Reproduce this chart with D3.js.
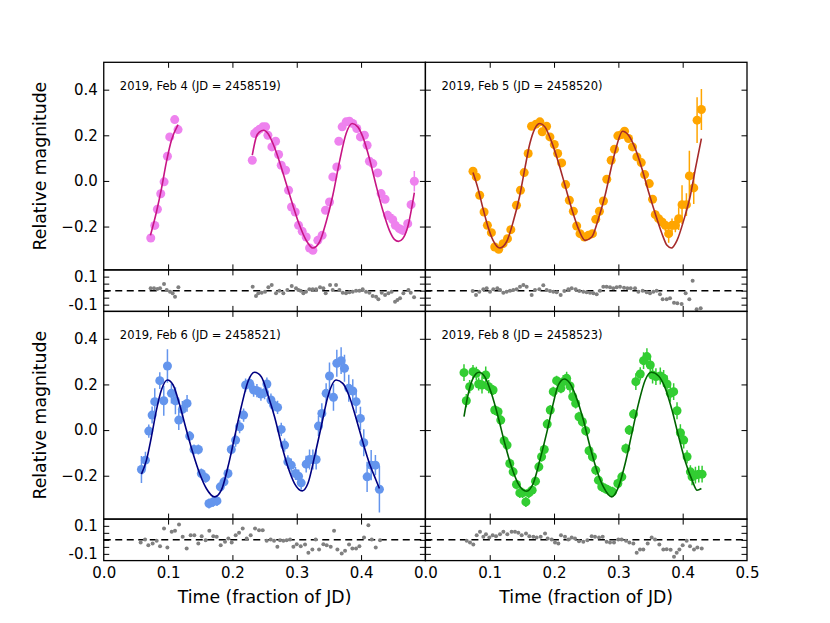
<!DOCTYPE html>
<html><head><meta charset="utf-8">
<script src="https://cdn.jsdelivr.net/npm/d3@7"></script>
<style>body{margin:0;background:#fff} svg{display:block} text{font-family:"DejaVu Sans",sans-serif}</style>
</head><body><svg id="c" width="830" height="623"></svg>
<script>
// ---------------- DATA (time fraction of JD, relative magnitude, error) ----------------
const panelLabels = ["2019, Feb 4 (JD = 2458519)", "2019, Feb 5 (JD = 2458520)", "2019, Feb 6 (JD = 2458521)", "2019, Feb 8 (JD = 2458523)"];
const xTickValues = [0.0, 0.1, 0.2, 0.3, 0.4, 0.5];
const mainYTicks = [-0.2, 0.0, 0.2, 0.4];
const resYTicks = [-0.1, -0.05, 0, 0.05, 0.1];
const resYLabels = {"0.1": "0.1", "-0.1": "-0.1"};
const xTitle = "Time (fraction of JD)";
const yTitle = "Relative magnitude";

const feb4Points = [[0.0731,-0.250,0.012],[0.0793,-0.195,0.01],[0.0834,-0.124,0.01],[0.0886,-0.056,0.012],[0.0938,-0.004,0.01],[0.0990,0.108,0.01],[0.1026,0.193,0.012],[0.1103,0.269,0.01],[0.1155,0.225,0.01],
[0.2309,0.0907,0.01],[0.2345,0.2078,0.01],[0.2381,0.2180,0.015],[0.2423,0.2268,0.015],[0.2474,0.2370,0.015],[0.2516,0.2370,0.01],[0.2552,0.2004,0.01],[0.2614,0.1492,0.01],[0.2671,0.1741,0.01],[0.2718,0.1156,0.01],[0.2759,0.0688,0.01],[0.2826,0.0468,0.01],[0.2873,-0.0410,0.01],[0.2919,-0.1141,0.01],[0.2976,-0.1361,0.01],[0.3028,-0.1946,0.01],[0.3085,-0.2209,0.01],[0.3147,-0.2458,0.01],[0.3199,-0.2941,0.01],[0.3251,-0.3043,0.01],[0.3328,-0.2604,0.01],[0.3395,-0.2385,0.01],[0.3447,-0.1287,0.012],[0.3509,-0.0922,0.012],[0.3561,0.0176,0.015],[0.3623,0.0614,0.015],[0.3654,0.1741,0.012],[0.3706,0.2370,0.015],[0.3768,0.2590,0.015],[0.3819,0.2619,0.015],[0.3871,0.2516,0.015],[0.3933,0.2297,0.015],[0.3990,0.1931,0.015],[0.4052,0.2004,0.015],[0.4094,0.1565,0.015],[0.4130,0.0863,0.015],[0.4182,0.0761,0.015],[0.4259,0.0351,0.015],[0.4311,-0.0556,0.015],[0.4373,-0.0805,0.015],[0.4414,-0.1507,0.02],[0.4492,-0.1697,0.025],[0.4533,-0.1946,0.02],[0.4595,-0.2092,0.02],[0.4647,-0.2165,0.02],[0.4725,-0.1873,0.02],[0.4777,-0.1039,0.02],[0.4828,-0.0015,0.045]];
const feb4FitA = [[0.0726,-0.2385],[0.0819,-0.1361],[0.0897,-0.0337],[0.0974,0.0834],[0.1052,0.1785],[0.1155,0.2473]];
const feb4FitB = [[0.2309,0.1127],[0.2371,0.1931],[0.2423,0.2151],[0.2485,0.2224],[0.2552,0.2078],[0.2630,0.1639],[0.2733,0.0834],[0.2836,-0.0117],[0.2940,-0.1068],[0.3044,-0.1946],[0.3147,-0.2604],[0.3251,-0.2941],[0.3354,-0.2677],[0.3457,-0.1800],[0.3561,-0.0629],[0.3664,0.0834],[0.3768,0.2078],[0.3861,0.2516],[0.3949,0.2370],[0.4027,0.1931],[0.4130,0.0980],[0.4233,-0.0190],[0.4337,-0.1287],[0.4440,-0.2165],[0.4518,-0.2560],[0.4580,-0.2648],[0.4647,-0.2531],[0.4725,-0.2019],[0.4828,-0.0512]];
const feb4Resid = [[0.0729,0.0167],[0.0781,0.0167],[0.0833,0.0119],[0.0875,0.0167],[0.0937,0.0476],[0.0978,0.0048],[0.1030,-0.0071],[0.1071,-0.0190],[0.1108,-0.0429],[0.1160,0.0238],
[0.2315,0.0286],[0.2367,-0.0381],[0.2403,-0.0190],[0.2455,-0.0143],[0.2507,-0.0071],[0.2559,0.0238],[0.2611,0.0405],[0.2678,-0.0190],[0.2730,0.0],[0.2792,-0.0190],[0.2854,0.0048],[0.2922,0.0333],[0.2989,0.0167],[0.3025,0.0048],[0.3061,0.0],[0.3103,-0.0190],[0.3144,-0.0071],[0.3196,0.0095],[0.3248,0.0095],[0.3300,0.0095],[0.3362,0.0238],[0.3414,0.0167],[0.3450,-0.0190],[0.3518,0.0405],[0.3559,0.0048],[0.3611,0.0405],[0.3663,0.0048],[0.3715,-0.0143],[0.3766,-0.0190],[0.3818,-0.0119],[0.3870,-0.0071],[0.3922,0.0],[0.3974,0.0],[0.4025,0.0095],[0.4077,-0.0071],[0.4129,-0.0143],[0.4181,-0.0381],[0.4233,-0.0429],[0.4269,-0.0619],[0.4321,-0.0143],[0.4373,-0.0310],[0.4425,-0.0190],[0.4476,-0.0071],[0.4528,-0.0786],[0.4565,-0.0667],[0.4606,-0.0548],[0.4658,-0.0190],[0.4736,0.0048],[0.4772,-0.0143],[0.4824,-0.0476]];

const feb5Points = [[0.0740,0.0424,0.012],[0.0792,0.0176,0.01],[0.0844,-0.0629,0.01],[0.0912,-0.1361,0.01],[0.0964,-0.1946,0.01],[0.1026,-0.2268,0.01],[0.1078,-0.2897,0.01],[0.1140,-0.2999,0.012],[0.1208,-0.2751,0.01],[0.1276,-0.2531,0.01],[0.1328,-0.2136,0.01],[0.1416,-0.1068,0.01],[0.1478,-0.0410,0.01],[0.1536,0.0366,0.01],[0.1598,0.1200,0.01],[0.1650,0.2399,0.015],[0.1718,0.2487,0.015],[0.1780,0.2590,0.015],[0.1816,0.2151,0.01],[0.1884,0.2399,0.015],[0.1936,0.1931,0.01],[0.2004,0.1595,0.01],[0.2056,0.1200,0.01],[0.2118,0.0790,0.01],[0.2180,-0.0161,0.01],[0.2238,-0.0849,0.01],[0.2300,-0.1331,0.01],[0.2352,-0.1975,0.01],[0.2404,-0.2312,0.01],[0.2472,-0.2458,0.01],[0.2534,-0.2385,0.01],[0.2597,-0.2312,0.01],[0.2648,-0.1683,0.01],[0.2706,-0.1331,0.012],[0.2768,-0.0878,0.012],[0.2820,0.0073,0.012],[0.2888,0.0907,0.012],[0.2940,0.1390,0.012],[0.2992,0.1975,0.012],[0.3054,0.2034,0.015],[0.3096,0.2180,0.015],[0.3158,0.1858,0.015],[0.3220,0.1492,0.015],[0.3288,0.1053,0.015],[0.3356,0.0805,0.015],[0.3408,0.0278,0.015],[0.3481,-0.0117,0.015],[0.3532,-0.0805,0.015],[0.3574,-0.1478,0.02],[0.3626,-0.1653,0.02],[0.3678,-0.1800,0.02],[0.3730,-0.1946,0.025],[0.3782,-0.2312,0.04],[0.3834,-0.1946,0.03],[0.3886,-0.1946,0.03],[0.3938,-0.1653,0.05],[0.3990,-0.1039,0.085],[0.4058,-0.1039,0.05],[0.4104,0.0219,0.11],[0.4172,-0.0307,0.07],[0.4224,0.2663,0.1],[0.4291,0.3131,0.09]];
const feb5Fit = [[0.0740,0.0366],[0.0818,-0.0337],[0.0896,-0.1214],[0.0974,-0.2019],[0.1052,-0.2604],[0.1156,-0.2941],[0.1260,-0.2677],[0.1364,-0.1800],[0.1468,-0.0629],[0.1546,0.0541],[0.1624,0.1639],[0.1702,0.2297],[0.1780,0.2516],[0.1858,0.2370],[0.1962,0.1712],[0.2066,0.0834],[0.2170,-0.0190],[0.2274,-0.1214],[0.2378,-0.2092],[0.2482,-0.2604],[0.2586,-0.2458],[0.2690,-0.1653],[0.2794,-0.0629],[0.2898,0.0688],[0.2976,0.1565],[0.3064,0.2180],[0.3158,0.2004],[0.3262,0.1419],[0.3366,0.0541],[0.3470,-0.0483],[0.3574,-0.1434],[0.3678,-0.2312],[0.3756,-0.2824],[0.3824,-0.2941],[0.3912,-0.2604],[0.4016,-0.1726],[0.4120,-0.0629],[0.4198,0.0541],[0.4291,0.1858]];
const feb5Resid = [[0.0735,-0.0024],[0.0787,-0.0310],[0.0838,-0.0071],[0.0901,0.0095],[0.0953,0.0167],[0.1004,-0.0071],[0.1056,0.0095],[0.1118,0.0167],[0.1160,0.0048],[0.1212,-0.0143],[0.1263,-0.0071],[0.1315,0.0],[0.1367,0.0048],[0.1419,0.0095],[0.1471,0.0286],[0.1523,0.0405],[0.1574,0.0286],[0.1652,-0.0310],[0.1704,0.0048],[0.1771,0.0095],[0.1833,0.0381],[0.1885,0.0048],[0.1937,-0.0024],[0.1989,-0.0071],[0.2041,-0.0119],[0.2103,-0.0310],[0.2160,-0.0024],[0.2222,0.0095],[0.2274,0.0167],[0.2336,0.0095],[0.2393,-0.0024],[0.2455,-0.0071],[0.2507,-0.0119],[0.2559,-0.0143],[0.2611,-0.0190],[0.2663,-0.0262],[0.2715,0.0],[0.2766,0.0286],[0.2818,0.0286],[0.2870,0.0238],[0.2922,0.0167],[0.2974,0.0238],[0.3026,0.0286],[0.3088,0.0214],[0.3140,0.0167],[0.3192,0.0167],[0.3259,0.0167],[0.3311,-0.0071],[0.3378,0.0],[0.3440,-0.0119],[0.3492,-0.0190],[0.3544,-0.0071],[0.3596,0.0],[0.3647,-0.0262],[0.3689,-0.0619],[0.3751,-0.0619],[0.3803,-0.0548],[0.3865,-0.0857],[0.3917,-0.0905],[0.3984,-0.0952],[0.4046,-0.0190],[0.4103,-0.0619],[0.4155,0.0714],[0.4217,-0.1333],[0.4280,-0.1262]];

const feb6Points = [[0.0586,-0.1726,0.059],[0.0648,-0.1317,0.037],[0.0700,-0.0044,0.029],[0.0752,0.0658,0.037],[0.0793,0.1244,0.059],[0.0871,0.2165,0.037],[0.0933,0.1287,0.066],[0.0990,0.2809,0.073],[0.1052,0.1609,0.044],[0.1114,0.1287,0.059],[0.1166,0.0439,0.044],[0.1222,0.0907,0.037],[0.1295,0.1170,0.037],[0.1336,-0.0263,0.022],[0.1403,-0.0849,0.022],[0.1471,-0.0849,0.022],[0.1517,-0.1902,0.022],[0.1585,-0.2092,0.022],[0.1636,-0.3219,0.022],[0.1698,-0.3146,0.022],[0.1760,-0.3102,0.022],[0.1812,-0.2487,0.022],[0.1869,-0.2268,0.022],[0.1931,-0.1902,0.022],[0.1983,-0.0849,0.022],[0.2050,-0.0439,0.029],[0.2112,0.0146,0.029],[0.2174,0.0658,0.029],[0.2205,0.1975,0.029],[0.2267,0.2048,0.029],[0.2330,0.1756,0.029],[0.2381,0.1726,0.029],[0.2443,0.1580,0.029],[0.2500,0.1639,0.029],[0.2536,0.2019,0.029],[0.2599,0.1317,0.029],[0.2640,0.1097,0.029],[0.2702,0.0995,0.029],[0.2759,0.0029,0.029],[0.2811,-0.0658,0.029],[0.2862,-0.1390,0.029],[0.2914,-0.1536,0.029],[0.2981,-0.1902,0.029],[0.3028,-0.2019,0.029],[0.3069,-0.2312,0.029],[0.3147,-0.1492,0.037],[0.3199,-0.1287,0.044],[0.3251,-0.1287,0.044],[0.3302,-0.1287,0.044],[0.3338,0.0176,0.044],[0.3390,0.0732,0.044],[0.3457,0.1609,0.044],[0.3509,0.2370,0.059],[0.3571,0.1434,0.059],[0.3623,0.2926,0.059],[0.3690,0.3043,0.059],[0.3742,0.2707,0.059],[0.3809,0.1829,0.059],[0.3871,0.1712,0.051],[0.3923,0.1244,0.051],[0.3990,0.0512,0.051],[0.4042,-0.0556,0.059],[0.4094,-0.2048,0.066],[0.4157,-0.1536,0.066],[0.4223,-0.1536,0.044],[0.4285,-0.2590,0.102]];
const feb6Fit = [[0.0586,-0.1931],[0.0664,-0.1317],[0.0741,-0.0293],[0.0819,0.0878],[0.0896,0.1756],[0.0990,0.2195],[0.1078,0.1975],[0.1181,0.1097],[0.1285,0.0],[0.1388,-0.1024],[0.1491,-0.1902],[0.1595,-0.2560],[0.1724,-0.2926],[0.1828,-0.2633],[0.1931,-0.1609],[0.2035,-0.0293],[0.2138,0.1024],[0.2241,0.2121],[0.2345,0.2531],[0.2449,0.2341],[0.2552,0.1536],[0.2655,0.0585],[0.2759,-0.0585],[0.2862,-0.1609],[0.2966,-0.2341],[0.3085,-0.2663],[0.3173,-0.2341],[0.3276,-0.1170],[0.3380,0.0146],[0.3483,0.1463],[0.3612,0.2195],[0.3716,0.2048],[0.3819,0.1463],[0.3923,0.0512],[0.4026,-0.0512],[0.4130,-0.1463],[0.4233,-0.2195],[0.4285,-0.2560]];
const feb6Resid = [[0.0574,-0.0190],[0.0642,0.0024],[0.0693,-0.0381],[0.0760,-0.0262],[0.0823,-0.0071],[0.0875,-0.0452],[0.0937,0.0810],[0.0989,-0.0548],[0.1056,0.0571],[0.1108,0.0643],[0.1170,0.1095],[0.1227,0.0214],[0.1289,-0.0619],[0.1351,0.0333],[0.1408,0.0333],[0.1470,-0.0262],[0.1522,0.0262],[0.1584,-0.0024],[0.1641,0.0643],[0.1703,0.0262],[0.1756,0.0214],[0.1818,-0.0381],[0.1885,-0.0143],[0.1937,0.0095],[0.1989,-0.0190],[0.2051,0.0333],[0.2103,0.0500],[0.2160,0.0810],[0.2222,0.0095],[0.2284,0.0333],[0.2352,0.0810],[0.2414,0.0690],[0.2471,0.0690],[0.2533,-0.0071],[0.2595,0.0024],[0.2647,-0.0071],[0.2699,-0.0500],[0.2740,-0.0024],[0.2792,-0.0071],[0.2844,-0.0024],[0.2896,0.0024],[0.2948,-0.0500],[0.3000,-0.0310],[0.3062,-0.0452],[0.3129,-0.0333],[0.3181,-0.0929],[0.3243,-0.0690],[0.3295,0.0024],[0.3347,-0.0690],[0.3414,-0.0310],[0.3466,-0.0381],[0.3528,-0.0500],[0.3580,0.0643],[0.3632,-0.0690],[0.3699,-0.0976],[0.3751,-0.0786],[0.3813,-0.0333],[0.3865,-0.0619],[0.3922,-0.0619],[0.3974,-0.0452],[0.4046,0.0167],[0.4114,0.1048],[0.4166,0.0024],[0.4228,-0.0548],[0.4295,-0.0024]];

const feb8Points = [[0.0600,0.2516,0.037],[0.0636,0.1287,0.029],[0.0688,0.1902,0.029],[0.0740,0.2560,0.029],[0.0792,0.2487,0.029],[0.0828,0.2019,0.029],[0.0880,0.1975,0.037],[0.0938,0.2414,0.037],[0.0984,0.1902,0.029],[0.1052,0.1756,0.022],[0.1078,0.0878,0.022],[0.1130,0.0805,0.022],[0.1172,0.0439,0.022],[0.1224,-0.0468,0.022],[0.1270,-0.0658,0.022],[0.1312,-0.1463,0.022],[0.1364,-0.1829,0.022],[0.1416,-0.2385,0.022],[0.1468,-0.2751,0.022],[0.1510,-0.2751,0.022],[0.1562,-0.3146,0.022],[0.1608,-0.2751,0.022],[0.1660,-0.2633,0.022],[0.1712,-0.2238,0.022],[0.1764,-0.1609,0.022],[0.1806,-0.1170,0.022],[0.1848,-0.0849,0.022],[0.1894,0.0263,0.022],[0.1941,0.0878,0.022],[0.1988,0.1683,0.022],[0.2040,0.2165,0.022],[0.2107,0.1829,0.022],[0.2144,0.2121,0.029],[0.2196,0.2268,0.029],[0.2248,0.1931,0.029],[0.2290,0.1463,0.029],[0.2336,0.1170,0.022],[0.2388,0.0585,0.022],[0.2440,0.0366,0.022],[0.2492,-0.0029,0.022],[0.2544,-0.0907,0.022],[0.2597,-0.1170,0.022],[0.2648,-0.1756,0.022],[0.2690,-0.2195,0.022],[0.2742,-0.2487,0.022],[0.2794,-0.2560,0.022],[0.2846,-0.2633,0.022],[0.2909,-0.2707,0.022],[0.2992,-0.2341,0.022],[0.3054,-0.2048,0.022],[0.3116,-0.0805,0.022],[0.3168,0.0,0.022],[0.3236,0.0702,0.022],[0.3272,0.2121,0.037],[0.3340,0.2458,0.029],[0.3392,0.3043,0.037],[0.3444,0.3219,0.037],[0.3496,0.2853,0.037],[0.3532,0.2414,0.037],[0.3584,0.2341,0.037],[0.3652,0.2370,0.037],[0.3704,0.2268,0.037],[0.3756,0.2019,0.037],[0.3808,0.1609,0.037],[0.3860,0.1683,0.037],[0.3912,0.0849,0.037],[0.3964,-0.0117,0.037],[0.4016,-0.0439,0.037],[0.4068,-0.1170,0.029],[0.4120,-0.1829,0.029],[0.4146,-0.2048,0.037],[0.4198,-0.1975,0.037],[0.4250,-0.1931,0.037],[0.4302,-0.1931,0.037]];
const feb8Fit = [[0.0600,0.0585],[0.0662,0.1536],[0.0740,0.2268],[0.0834,0.2531],[0.0922,0.2341],[0.1026,0.1609],[0.1130,0.0585],[0.1234,-0.0585],[0.1338,-0.1609],[0.1442,-0.2341],[0.1572,-0.2677],[0.1676,-0.2341],[0.1780,-0.1317],[0.1884,-0.0146],[0.1988,0.1170],[0.2066,0.1975],[0.2160,0.2238],[0.2248,0.2048],[0.2352,0.1390],[0.2456,0.0439],[0.2560,-0.0732],[0.2664,-0.1756],[0.2768,-0.2487],[0.2898,-0.2926],[0.3002,-0.2487],[0.3106,-0.1463],[0.3210,-0.0146],[0.3314,0.1170],[0.3418,0.2195],[0.3512,0.2531],[0.3626,0.2370],[0.3730,0.1829],[0.3834,0.0878],[0.3938,-0.0293],[0.4042,-0.1390],[0.4146,-0.2195],[0.4224,-0.2633],[0.4291,-0.2560]];
const feb8Resid = [[0.0642,-0.0071],[0.0693,-0.0190],[0.0745,-0.0333],[0.0797,0.0333],[0.0849,0.0571],[0.0901,0.0214],[0.0942,0.0405],[0.0994,0.0167],[0.1046,0.0333],[0.1098,0.0262],[0.1160,0.0405],[0.1212,0.0571],[0.1274,0.0405],[0.1341,0.0571],[0.1393,0.0571],[0.1445,0.0500],[0.1497,0.0333],[0.1564,0.0452],[0.1616,0.0262],[0.1678,0.0214],[0.1730,0.0167],[0.1792,0.0214],[0.1860,0.0452],[0.1901,0.0095],[0.1963,0.0024],[0.2015,-0.0190],[0.2067,-0.0262],[0.2108,0.0333],[0.2170,0.0214],[0.2222,0.0024],[0.2274,0.0167],[0.2326,0.0095],[0.2388,-0.0095],[0.2455,-0.0143],[0.2518,-0.0024],[0.2585,0.0262],[0.2637,0.0214],[0.2699,0.0167],[0.2756,0.0214],[0.2818,-0.0143],[0.2870,-0.0190],[0.2932,-0.0190],[0.2999,0.0024],[0.3051,0.0024],[0.3119,-0.0071],[0.3171,-0.0190],[0.3233,-0.0262],[0.3285,-0.0929],[0.3336,-0.0690],[0.3388,-0.0690],[0.3456,-0.0262],[0.3518,0.0167],[0.3570,0.0024],[0.3637,-0.0333],[0.3699,-0.0690],[0.3751,-0.0667],[0.3813,-0.0714],[0.3865,-0.1214],[0.3907,-0.0929],[0.3949,-0.0690],[0.4000,-0.0381],[0.4062,-0.0071],[0.4114,-0.0452],[0.4176,-0.0690],[0.4228,-0.0548],[0.4296,-0.0619]];

// ---------------- LAYOUT ----------------
const svg = d3.select('#c');
const L = 103.75, M = 425.4, R = 747;
const rowMain1 = [62.3, 269.9], rowRes1 = [269.9, 311.4], rowMain2 = [311.4, 519.1], rowRes2 = [519.1, 560.6];
const TICK = 5.5, TICKFS = 15, LABFS = 17.3;

const panels = [
  {label: panelLabels[0], cols: [L, M], main: rowMain1, res: rowRes1, pts: feb4Points, fits: [feb4FitA, feb4FitB], resid: feb4Resid, pc: '#EE82EE', lc: '#C71585', yLab: true, xLab: false, xt: [0,0.1,0.2,0.3,0.4]},
  {label: panelLabels[1], cols: [M, R], main: rowMain1, res: rowRes1, pts: feb5Points, fits: [feb5Fit], resid: feb5Resid, pc: '#FFA500', lc: '#A52A2A', yLab: false, xLab: false, xt: xTickValues},
  {label: panelLabels[2], cols: [L, M], main: rowMain2, res: rowRes2, pts: feb6Points, fits: [feb6Fit], resid: feb6Resid, pc: '#6495ED', lc: '#000080', yLab: true, xLab: true, xt: [0,0.1,0.2,0.3,0.4]},
  {label: panelLabels[3], cols: [M, R], main: rowMain2, res: rowRes2, pts: feb8Points, fits: [feb8Fit], resid: feb8Resid, pc: '#32CD32', lc: '#006400', yLab: false, xLab: true, xt: xTickValues}
];

let clipId = 0;
function makeClip(x0, y0, w, h) {
  const id = 'clip' + (clipId++);
  svg.append('clipPath').attr('id', id).append('rect').attr('x', x0).attr('y', y0).attr('width', w).attr('height', h);
  return 'url(#' + id + ')';
}

function styleAxis(g) {
  g.select('.domain').remove();
  g.selectAll('.tick line').attr('stroke', '#000').attr('stroke-width', 1);
  g.selectAll('.tick text').attr('fill', '#000').attr('font-size', TICKFS).attr('font-family', '"DejaVu Sans", sans-serif');
}

function drawAxes(x, y, row, xt, yt, yFmt, showY, showX) {
  const [x0, x1] = x.range();
  const gb = svg.append('g').attr('transform', `translate(0,${row[1]})`)
    .call(d3.axisBottom(x).tickValues(xt.filter(v => v > 0 && v < 0.5)).tickSize(-TICK).tickFormat(''));
  styleAxis(gb);
  if (showX) {
    const gl = svg.append('g').attr('transform', `translate(0,${row[1]})`)
      .call(d3.axisBottom(x).tickValues(xt).tickSize(0).tickPadding(6.5).tickFormat(d3.format('.1f')));
    styleAxis(gl);
  }
  const gt = svg.append('g').attr('transform', `translate(0,${row[0]})`)
    .call(d3.axisTop(x).tickValues(xt.filter(v => v > 0 && v < 0.5)).tickSize(-TICK).tickFormat(''));
  styleAxis(gt);
  const gleft = svg.append('g').attr('transform', `translate(${x0},0)`)
    .call(d3.axisLeft(y).tickValues(yt).tickSize(-TICK).tickPadding(6).tickFormat(showY ? yFmt : () => ''));
  styleAxis(gleft);
  const gright = svg.append('g').attr('transform', `translate(${x1},0)`)
    .call(d3.axisRight(y).tickValues(yt).tickSize(-TICK).tickFormat(''));
  styleAxis(gright);
  svg.append('rect').attr('x', x0).attr('y', row[0]).attr('width', x1 - x0).attr('height', row[1] - row[0])
    .attr('fill', 'none').attr('stroke', '#000').attr('stroke-width', 1.3);
}

panels.forEach(p => {
  const x = d3.scaleLinear().domain([0, 0.5]).range(p.cols);
  const y = d3.scaleLinear().domain([-0.39, 0.52]).range([p.main[1], p.main[0]]);
  const yr = d3.scaleLinear().domain([-0.148, 0.148]).range([p.res[1], p.res[0]]);

  const gm = svg.append('g').attr('clip-path', makeClip(p.cols[0], p.main[0], p.cols[1] - p.cols[0], p.main[1] - p.main[0]));
  gm.selectAll('line.err').data(p.pts).enter().append('line')
    .attr('x1', d => x(d[0])).attr('x2', d => x(d[0]))
    .attr('y1', d => y(d[1] - d[2])).attr('y2', d => y(d[1] + d[2]))
    .attr('stroke', p.pc).attr('stroke-width', 1.5);
  gm.selectAll('circle').data(p.pts).enter().append('circle')
    .attr('cx', d => x(d[0])).attr('cy', d => y(d[1])).attr('r', 4.5).attr('fill', p.pc);
  const line = d3.line().x(d => x(d[0])).y(d => y(d[1])).curve(d3.curveMonotoneX);
  p.fits.forEach(f => gm.append('path').attr('d', line(f)).attr('fill', 'none').attr('stroke', p.lc).attr('stroke-width', 1.6));
  svg.append('text').attr('x', p.cols[0] + 16.1).attr('y', p.main[0] + 27.5).attr('font-size', 11.5).attr('fill', '#000').text(p.label);
  drawAxes(x, y, p.main, p.xt, mainYTicks, d3.format('.1f'), p.yLab, false);

  const gr = svg.append('g').attr('clip-path', makeClip(p.cols[0], p.res[0], p.cols[1] - p.cols[0], p.res[1] - p.res[0]));
  gr.append('line').attr('x1', p.cols[0]).attr('x2', p.cols[1]).attr('y1', yr(0)).attr('y2', yr(0))
    .attr('stroke', '#000').attr('stroke-width', 1.5).attr('stroke-dasharray', '7,4.5');
  gr.selectAll('circle').data(p.resid).enter().append('circle')
    .attr('cx', d => x(d[0])).attr('cy', d => yr(d[1])).attr('r', 2.0).attr('fill', '#808080');
  drawAxes(x, yr, p.res, p.xt, resYTicks, d => resYLabels[String(d)] || '', p.yLab, p.xLab);
});

[rowMain1, rowMain2].forEach(row => {
  const cy = (row[0] + row[1]) / 2;
  svg.append('text').attr('transform', `translate(46,${cy}) rotate(-90)`).attr('text-anchor', 'middle')
    .attr('font-size', LABFS).attr('fill', '#000').text(yTitle);
});
[(L + M) / 2, (M + R) / 2].forEach(cx => {
  svg.append('text').attr('x', cx).attr('y', 602.5).attr('text-anchor', 'middle')
    .attr('font-size', LABFS).attr('fill', '#000').text(xTitle);
});
</script></body></html>
